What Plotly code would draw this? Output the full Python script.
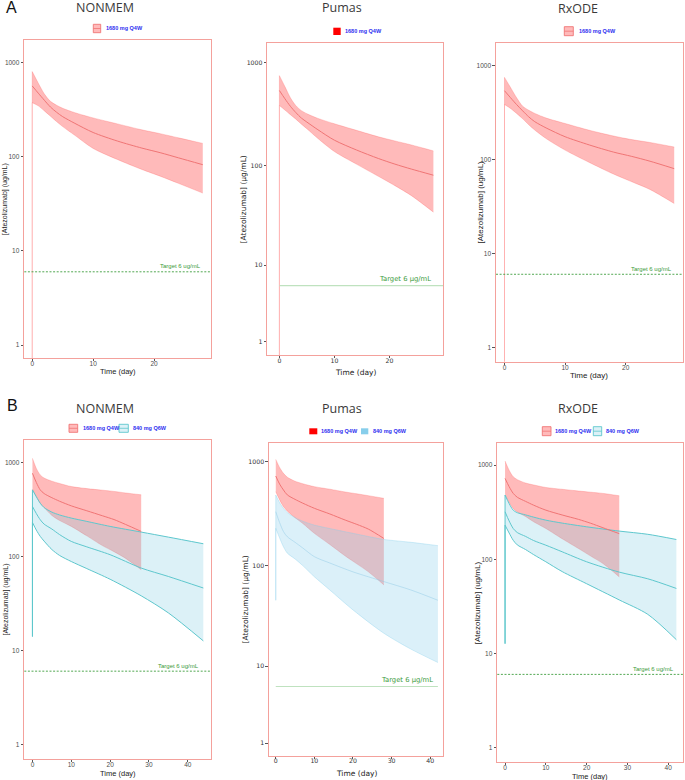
import numpy as np
import plotly.graph_objects as go

# ------------------------------------------------------------------ data
TARGET = 6.0
LEGEND_RED = "1680 mg Q4W"
LEGEND_BLUE = "840 mg Q6W"
YTITLE_UG = "[Atezolizumab] (ug/mL)"
YTITLE_MU = "[Atezolizumab] (μg/mL)"
XTITLE = "Time (day)"
TARGET_UG = "Target 6 ug/mL"
TARGET_MU = "Target 6 μg/mL"
LOG_TICKS = [1, 10, 100, 1000]
X_TICKS_A = [0, 10, 20]
X_TICKS_B = [0, 10, 20, 30, 40]

# Panel A: single 1680 mg Q4W dose (first time entry = pre-dose sample)
T_A = [0, 0, 1, 2, 3, 4, 5, 7, 10, 14, 18, 21, 24, 28]
A_NONMEM_LO = [0, 373, 345, 305, 268, 235, 208, 168, 122, 93, 73, 62, 52, 41]
A_NONMEM_MED = [561, 470, 395, 335, 295, 265, 225, 180, 146, 123, 110, 97, 82]
A_NONMEM_HI = [0, 796, 600, 460, 385, 350, 325, 292, 257, 222, 192, 175, 158, 138]

A_PUMAS_LO = [0, 387, 350, 315, 285, 255, 230, 185, 138, 104, 79, 64, 51, 35]
A_PUMAS_MED = [541, 450, 380, 330, 292, 267, 225, 178, 143, 118, 104, 93, 81]
A_PUMAS_HI = [0, 754, 590, 460, 385, 345, 322, 290, 257, 222, 192, 175, 160, 140]

A_RXODE_LO = [0, 386, 350, 310, 272, 235, 206, 165, 126, 93, 70, 58, 48, 34]
A_RXODE_MED = [541, 455, 385, 330, 285, 253, 215, 175, 143, 120, 108, 96, 80]
A_RXODE_HI = [0, 750, 585, 455, 370, 335, 310, 275, 242, 205, 178, 163, 152, 136]

# Panel B: 1680 mg Q4W (red) vs 840 mg Q6W (blue)
T_B_RED = [0, 1, 2, 3, 5, 7, 10, 14, 18, 21, 24, 28]
B_NONMEM_RED_LO = [518, 430, 367, 330, 272, 240, 208, 165, 130, 112, 95, 72]
B_NONMEM_RED_MED = [764, 610, 509, 465, 420, 385, 344, 305, 270, 246, 218, 184]
B_NONMEM_RED_HI = [1103, 860, 734, 680, 630, 595, 552, 525, 505, 490, 472, 451]

B_PUMAS_RED_LO = [515, 430, 370, 335, 290, 255, 205, 160, 124, 104, 87, 65]
B_PUMAS_RED_MED = [729, 610, 535, 480, 435, 400, 357, 315, 275, 250, 225, 183]
B_PUMAS_RED_HI = [1053, 880, 773, 710, 650, 615, 576, 545, 512, 492, 472, 445]

B_RXODE_RED_LO = [480, 400, 346, 318, 285, 250, 212, 165, 130, 108, 90, 65]
B_RXODE_RED_MED = [722, 590, 500, 455, 412, 375, 332, 295, 265, 241, 216, 187]
B_RXODE_RED_HI = [1103, 880, 752, 700, 645, 615, 578, 553, 530, 515, 500, 472]

T_B_BLUE_NONMEM = [0, 0, 1, 2, 3, 5, 7, 10, 14, 20, 28, 35, 44]
B_NONMEM_BLUE_LO = [14, 229, 190, 163, 145, 118, 102, 88, 74, 57, 38, 25, 12.6]
B_NONMEM_BLUE_MED = [339, 285, 245, 220, 195, 170, 144, 126, 104, 75, 61, 46]
B_NONMEM_BLUE_HI = [14, 509, 430, 367, 330, 295, 275, 255, 235, 208, 181, 160, 136]

T_B_BLUE = [0, 0, 1, 2, 3, 5, 7, 10, 14, 20, 28, 35, 42]
B_PUMAS_BLUE_LO = [46, 229, 185, 152, 132, 116, 100, 78, 58, 37, 21.7, 15, 10.9]
B_PUMAS_BLUE_MED = [331, 260, 213, 190, 168, 148, 122, 106, 87, 70, 58, 46]
B_PUMAS_BLUE_HI = [46, 479, 405, 356, 325, 290, 268, 246, 228, 205, 179, 168, 156]

B_RXODE_BLUE_LO = [12.7, 230, 190, 159, 142, 127, 112, 94, 74, 55, 37, 26, 14]
B_RXODE_BLUE_MED = [319, 255, 212, 192, 175, 158, 141, 120, 94, 73, 62, 49]
B_RXODE_BLUE_HI = [12.7, 480, 390, 332, 312, 296, 280, 260, 242, 221, 199, 184, 162]

# ------------------------------------------------------------------ styles
W, H = 685, 780
FRAME = "#F4A19C"
RED_FILL = "rgba(255,0,0,0.27)"
RED_EDGE = "rgba(255,60,60,0.22)"
RED_MED = "#F07575"
BLUE_FILL_GG = "rgba(120,200,225,0.26)"
BLUE_LINE_GG = "#5EC7CD"
BLUE_FILL_PU = "rgba(135,206,235,0.30)"
BLUE_LINE_PU = "rgba(140,200,228,0.45)"
GREEN_DASH = "#3E9E3E"
GREEN_PU_LINE = "#BFE2BF"
GREEN_TEXT = "#3A9A3A"
LEG_TEXT = "#2E2EF0"
GG_FONT = "Liberation Sans, Arial"
PU_FONT = "DejaVu Sans"
TICK_FONT = dict(family=GG_FONT, size=6.5, color="#4D4D4D")


def px(x):
    return x / W


def py(y):
    return 1 - y / H


def tf_log(v):
    return np.maximum(np.asarray(v, dtype=float), 1e-3)


def tf_pseudo(v):
    return np.log10(np.asarray(v, dtype=float) + 1.0)


red_gg = dict(fill=RED_FILL, edge=RED_EDGE, edge_w=1.0, med=RED_MED, med_w=1.0)
blue_gg = dict(fill=BLUE_FILL_GG, edge=BLUE_LINE_GG, edge_w=1.0, med=BLUE_LINE_GG, med_w=1.0)
red_pu = dict(fill=RED_FILL, edge=RED_EDGE, edge_w=1.0, med=RED_MED, med_w=1.0)
blue_pu = dict(fill=BLUE_FILL_PU, edge="rgba(135,206,235,0.45)", edge_w=0.8, med=BLUE_LINE_PU, med_w=1.0)

panels = [
    dict(tool="NONMEM", kind="log", frame=(24.3, 40, 210.7, 358.3), xr=[-1.3, 29.3], yr=[-0.139, 3.236],
         xticks=X_TICKS_A, title_xy=(105, 8), letter=("A", 11, 8), ytitle=YTITLE_UG, ytitle_x=5, ytitle_size=7,
         xtitle_y=371.5, xtitle_size=7.5, gg=True,
         bands=[(T_A, A_NONMEM_LO, A_NONMEM_MED, A_NONMEM_HI, red_gg)],
         legend=[((93.3, 24.3, 100.7, 32.7), 104, "red")], leg_y=28.5,
         target_text=TARGET_UG, target_x=max(T_A), target_size=6),
    dict(tool="Pumas", kind="pseudo", frame=(267.3, 43.3, 443.3, 355), xr=[-2.2, 29.8], yr=[0.173, 3.191],
         xticks=X_TICKS_A, title_xy=(342, 8), letter=None, ytitle=YTITLE_MU, ytitle_x=243.3, ytitle_size=7.5,
         xtitle_y=372, xtitle_size=7.5, gg=False,
         bands=[(T_A, A_PUMAS_LO, A_PUMAS_MED, A_PUMAS_HI, red_pu)],
         legend=[((333.3, 27.7, 340.7, 35), 343, "red")], leg_y=31.5,
         target_text=TARGET_MU, target_x=max(T_A), target_size=6.8, target_end=None),
    dict(tool="RxODE", kind="log", frame=(496, 43.3, 682.7, 361.7), xr=[-1.4, 29.4], yr=[-0.153, 3.238],
         xticks=X_TICKS_A, title_xy=(578, 9), letter=None, ytitle=YTITLE_UG, ytitle_x=480, ytitle_size=8,
         xtitle_y=375.5, xtitle_size=8, gg=True,
         bands=[(T_A, A_RXODE_LO, A_RXODE_MED, A_RXODE_HI, red_gg)],
         legend=[((564.3, 26.7, 573.3, 35.7), 577, "red")], leg_y=31,
         target_text=TARGET_UG, target_x=max(T_A), target_size=6),
    dict(tool="NONMEM", kind="log", frame=(24.3, 440, 210.7, 759), xr=[-2.1, 45.9], yr=[-0.156, 3.237],
         xticks=X_TICKS_B, title_xy=(105, 408), letter=("B", 12, 405), ytitle=YTITLE_UG, ytitle_x=5, ytitle_size=7,
         xtitle_y=773, xtitle_size=7.5, gg=True,
         bands=[(T_B_RED, B_NONMEM_RED_LO, B_NONMEM_RED_MED, B_NONMEM_RED_HI, red_gg),
                (T_B_BLUE_NONMEM, B_NONMEM_BLUE_LO, B_NONMEM_BLUE_MED, B_NONMEM_BLUE_HI, blue_gg)],
         legend=[((69, 424.3, 77.7, 432.3), 81, "red"), ((119, 424.3, 128.3, 432.3), 130.7, "blue")], leg_y=428.3,
         target_text=TARGET_UG, target_x=max(T_B_BLUE_NONMEM) - 0.6, target_size=6),
    dict(tool="Pumas", kind="pseudo", frame=(269, 443.3, 443.3, 755.7), xr=[-1.75, 43.4], yr=[0.182, 3.177],
         xticks=X_TICKS_B, title_xy=(342, 408), letter=None, ytitle=YTITLE_MU, ytitle_x=245, ytitle_size=7.5,
         xtitle_y=773, xtitle_size=7.5, gg=False,
         bands=[(T_B_RED, B_PUMAS_RED_LO, B_PUMAS_RED_MED, B_PUMAS_RED_HI, red_pu),
                (T_B_BLUE, B_PUMAS_BLUE_LO, B_PUMAS_BLUE_MED, B_PUMAS_BLUE_HI, blue_pu)],
         legend=[((309.3, 428.3, 317.3, 434.3), 319.3, "red"), ((361, 428.3, 368.3, 434.3), 371, "blue")], leg_y=431,
         target_text=TARGET_MU, target_x=max(T_B_BLUE) - 0.7, target_size=6.8, target_end=max(T_B_BLUE)),
    dict(tool="RxODE", kind="log", frame=(497.3, 442.7, 683.3, 762.3), xr=[-1.9, 43.7], yr=[-0.155, 3.237],
         xticks=X_TICKS_B, title_xy=(578, 408), letter=None, ytitle=YTITLE_UG, ytitle_x=477.7, ytitle_size=8,
         xtitle_y=776.5, xtitle_size=7.5, gg=True,
         bands=[(T_B_RED, B_RXODE_RED_LO, B_RXODE_RED_MED, B_RXODE_RED_HI, red_gg),
                (T_B_BLUE, B_RXODE_BLUE_LO, B_RXODE_BLUE_MED, B_RXODE_BLUE_HI, blue_gg)],
         legend=[((542.3, 426.7, 551, 435.7), 553.3, "red"), ((593.3, 426.7, 601.7, 435.7), 604.3, "blue")], leg_y=431,
         target_text=TARGET_UG, target_x=max(T_B_BLUE), target_size=6),
]

fig = go.Figure()
axes = {}
annotations = []
shapes = []
SPL = dict(shape="spline", smoothing=0.8)

for i, p in enumerate(panels, start=1):
    xa = "x" if i == 1 else f"x{i}"
    ya = "y" if i == 1 else f"y{i}"
    xname = "xaxis" if i == 1 else f"xaxis{i}"
    yname = "yaxis" if i == 1 else f"yaxis{i}"
    l, t, r, b = p["frame"]
    is_log = p["kind"] == "log"
    tf = tf_log if is_log else tf_pseudo
    tick_font = TICK_FONT if p["gg"] else dict(TICK_FONT, family=PU_FONT, size=6.2, color="#333")

    axes[xname] = dict(domain=[px(l), px(r)], range=p["xr"], anchor=ya, showline=True, mirror=True,
                       linecolor=FRAME, linewidth=1.3, ticks="outside", ticklen=2, tickwidth=0.8,
                       tickcolor="#555", tickvals=p["xticks"], tickfont=tick_font, showgrid=False,
                       zeroline=False, fixedrange=True, ticklabelstandoff=-3)
    ytv = LOG_TICKS if is_log else list(tf_pseudo(LOG_TICKS))
    axes[yname] = dict(domain=[py(b), py(t)], range=p["yr"], type="log" if is_log else "linear",
                       anchor=xa, showline=True, mirror=True, linecolor=FRAME, linewidth=1.3,
                       ticks="outside", ticklen=2.5, tickwidth=0.8, tickcolor="#555",
                       tickvals=ytv, ticktext=[str(v) for v in LOG_TICKS], tickfont=tick_font,
                       showgrid=False, zeroline=False, fixedrange=True)

    # bands: smooth post-dose ribbon, plus straight pre-dose rise at t = 0
    for (tt, lo, med, hi, st) in p["bands"]:
        tt = list(tt)
        k = 1 if len(tt) > 1 and tt[0] == tt[1] else 0   # pre-dose sample present?
        fig.add_trace(go.Scatter(x=tt[k:], y=tf(lo[k:]), xaxis=xa, yaxis=ya, mode="lines",
                                 line=dict(color=st["edge"], width=st["edge_w"], **SPL),
                                 showlegend=False, hoverinfo="skip"))
        fig.add_trace(go.Scatter(x=tt[k:], y=tf(hi[k:]), xaxis=xa, yaxis=ya, mode="lines", fill="tonexty",
                                 fillcolor=st["fill"], line=dict(color=st["edge"], width=st["edge_w"], **SPL),
                                 showlegend=False, hoverinfo="skip"))
        if k:
            for ser in (lo, hi):
                fig.add_trace(go.Scatter(x=tt[:2], y=tf(ser[:2]), xaxis=xa, yaxis=ya, mode="lines",
                                         line=dict(color=st["edge"], width=st["edge_w"]),
                                         showlegend=False, hoverinfo="skip"))
    for (tt, lo, med, hi, st) in p["bands"]:
        tmed = list(tt)[len(tt) - len(med):]
        fig.add_trace(go.Scatter(x=tmed, y=tf(med), xaxis=xa, yaxis=ya, mode="lines",
                                 line=dict(color=st["med"], width=st["med_w"], **SPL),
                                 showlegend=False, hoverinfo="skip"))

    # target line
    ty = float(tf([TARGET])[0])
    if p["gg"]:
        shapes.append(dict(type="line", xref=f"{xa} domain", yref=ya, x0=0, x1=1, y0=TARGET, y1=TARGET,
                           line=dict(color=GREEN_DASH, width=0.9, dash="2px,1.6px"), layer="above"))
        ann_y = np.log10(TARGET)
    else:
        x_end = p["target_end"] if p.get("target_end") is not None else p["xr"][1]
        fig.add_trace(go.Scatter(x=[0, x_end], y=[ty, ty], xaxis=xa, yaxis=ya, mode="lines",
                                 line=dict(color=GREEN_PU_LINE, width=1.1), showlegend=False,
                                 hoverinfo="skip"))
        ann_y = ty
    annotations.append(dict(x=p["target_x"], y=ann_y, xref=xa, yref=ya, text=p["target_text"],
                            showarrow=False, xanchor="right", yanchor="bottom", yshift=0.5,
                            font=dict(family=GG_FONT if p["gg"] else PU_FONT,
                                      size=p["target_size"], color=GREEN_TEXT)))

    # titles
    tx, tyy = p["title_xy"]
    annotations.append(dict(x=px(tx), y=py(tyy), xref="paper", yref="paper", text=p["tool"],
                            showarrow=False, xanchor="center", yanchor="middle",
                            font=dict(family="Open Sans", size=12.5, color="#3A3A3A")))
    if p["letter"]:
        lt, lx, ly = p["letter"]
        annotations.append(dict(x=px(lx), y=py(ly), xref="paper", yref="paper", text=lt, showarrow=False,
                                xanchor="center", yanchor="middle",
                                font=dict(family=GG_FONT, size=16, color="#111")))
    # axis titles
    axis_font_family = GG_FONT if p["gg"] else PU_FONT
    annotations.append(dict(x=px((l + r) / 2), y=py(p["xtitle_y"]), xref="paper", yref="paper", text=XTITLE,
                            showarrow=False, xanchor="center", yanchor="middle",
                            font=dict(family=axis_font_family, size=p["xtitle_size"], color="#222")))
    annotations.append(dict(x=px(p["ytitle_x"]), y=py((t + b) / 2), xref="paper", yref="paper",
                            text=p["ytitle"], textangle=-90, showarrow=False, xanchor="center",
                            yanchor="middle",
                            font=dict(family=axis_font_family, size=p["ytitle_size"], color="#222")))

    # legends
    for (kx0, ky0, kx1, ky1), txt_left, which in p["legend"]:
        label = LEGEND_RED if which == "red" else LEGEND_BLUE
        if p["gg"]:
            fillc = RED_FILL if which == "red" else BLUE_FILL_GG
            linec = RED_MED if which == "red" else BLUE_LINE_GG
            shapes.append(dict(type="rect", xref="paper", yref="paper", x0=px(kx0), x1=px(kx1),
                               y0=py(ky1), y1=py(ky0), fillcolor=fillc, line=dict(color=linec, width=0.9)))
            shapes.append(dict(type="line", xref="paper", yref="paper", x0=px(kx0), x1=px(kx1),
                               y0=py((ky0 + ky1) / 2), y1=py((ky0 + ky1) / 2), line=dict(color=linec, width=0.8)))
        else:
            fillc = "#FF0000" if which == "red" else "#87CEEB"
            shapes.append(dict(type="rect", xref="paper", yref="paper", x0=px(kx0), x1=px(kx1),
                               y0=py(ky1), y1=py(ky0), fillcolor=fillc, line=dict(width=0)))
        annotations.append(dict(x=px(txt_left), y=py(p["leg_y"]), xref="paper", yref="paper",
                                text=f"<b>{label}</b>", showarrow=False, xanchor="left", yanchor="middle",
                                font=dict(family=GG_FONT, size=5.5, color=LEG_TEXT)))

fig.update_layout(width=W, height=H, margin=dict(l=0, r=0, t=0, b=0), paper_bgcolor="white",
                  plot_bgcolor="white", showlegend=False, annotations=annotations, shapes=shapes, **axes)

fig.write_html("out.html")
